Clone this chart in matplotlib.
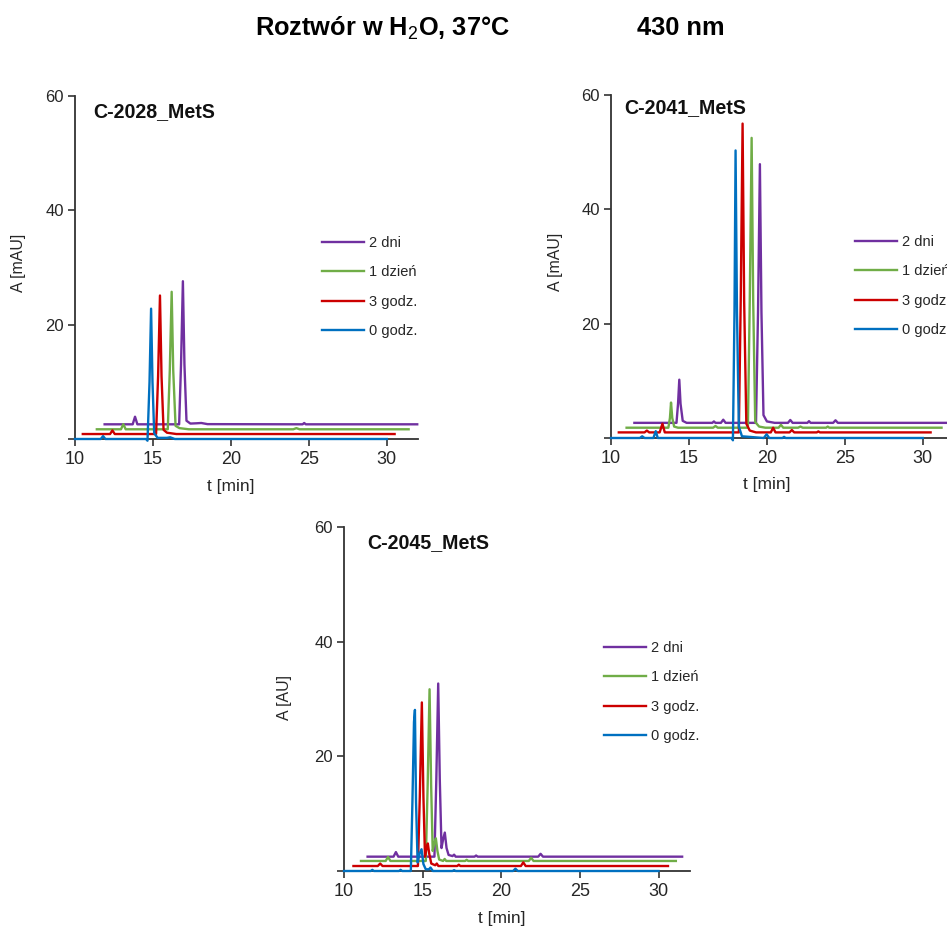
import matplotlib
matplotlib.use("Agg")
import matplotlib.pyplot as plt

plt.rcParams['font.family'] = ['Liberation Sans', 'DejaVu Sans']
plt.rcParams['mathtext.fontset'] = 'custom'
plt.rcParams['mathtext.rm'] = 'Liberation Sans'
plt.rcParams['mathtext.bf'] = 'Liberation Sans:bold'

# ---------------- data ----------------
SERIES_LABELS = ["0 godz.", "3 godz.", "1 dzień", "2 dni"]
SERIES_COLORS = ["#0070C0", "#CC0000", "#70AD47", "#7030A0"]
PANEL_TITLES = ["C-2028_MetS", "C-2041_MetS", "C-2045_MetS"]
PANEL_YLABELS = ["A [mAU]", "A [mAU]", "A [AU]"]
X_TICKS = [10, 15, 20, 25, 30]
Y_TICKS = [0, 20, 40, 60]
Y_TICK_LABELS = ["", "20", "40", "60"]

# Panel 1: C-2028_MetS
P1_0H_T = [10.0, 11.65, 11.8, 11.95, 14.55, 14.65, 14.78, 14.88, 14.97, 15.08, 15.3, 15.9, 16.1, 16.4, 30.0]
P1_0H_A = [0, 0, 0.5, 0, 0, -0.3, 10, 22.8, 10, 1.0, 0.2, 0.2, 0.3, 0, 0]
P1_3H_T = [10.5, 12.25, 12.4, 12.55, 15.2, 15.33, 15.45, 15.55, 15.68, 15.9, 16.5, 30.5]
P1_3H_A = [0.87, 0.87, 1.5, 0.87, 0.87, 11, 25.1, 11, 1.6, 1.1, 0.87, 0.87]
P1_1D_T = [11.4, 12.95, 13.1, 13.25, 15.95, 16.08, 16.2, 16.3, 16.45, 16.7, 17.3, 24.0, 24.2, 24.4, 31.4]
P1_1D_A = [1.7, 1.7, 2.6, 1.7, 1.7, 12, 25.75, 12, 2.3, 1.9, 1.7, 1.7, 1.9, 1.7, 1.7]
P1_2D_T = [11.9, 13.7, 13.85, 14.0, 16.68, 16.8, 16.92, 17.02, 17.15, 17.4, 17.8, 18.1, 18.5, 24.6, 24.7, 24.8, 31.95]
P1_2D_A = [2.57, 2.57, 3.9, 2.57, 2.57, 13, 27.6, 13, 3.2, 2.7, 2.75, 2.8, 2.6, 2.57, 2.8, 2.57, 2.57]

# Panel 2: C-2041_MetS
P2_0H_T = [10.0, 11.85, 12.0, 12.15, 12.72, 12.87, 13.0, 17.75, 17.82, 17.92, 17.99, 18.08, 18.2, 18.4,
           19.8, 19.98, 20.15, 21.0, 21.1, 21.2, 30.0]
P2_0H_A = [0, 0, 0.3, 0, 0, 1.2, 0, 0, -0.4, 22, 50.3, 22, 2, 0.3, 0, 0.65, 0, 0, 0.2, 0, 0]
P2_3H_T = [10.5, 12.15, 12.3, 12.45, 13.12, 13.3, 13.45, 18.2, 18.32, 18.44, 18.54, 18.68, 18.9, 19.3,
           20.25, 20.4, 20.55, 21.45, 21.6, 21.75, 23.2, 23.3, 23.4, 30.5]
P2_3H_A = [0.98, 0.98, 1.3, 0.98, 0.98, 2.5, 0.98, 0.98, 24, 55.0, 24, 2.5, 1.3, 0.98,
           0.98, 1.8, 0.98, 0.98, 1.4, 0.98, 0.98, 1.15, 0.98, 0.98]
P2_1D_T = [11.0, 13.68, 13.78, 13.85, 13.93, 14.05, 14.3, 16.55, 16.7, 16.85, 18.78, 18.9, 19.02, 19.12,
           19.25, 19.5, 19.9, 20.75, 20.9, 21.05, 22.0, 22.15, 22.3, 23.8, 23.9, 24.0, 31.2]
P2_1D_A = [1.8, 1.8, 3.5, 6.2, 3.5, 2.0, 1.8, 1.8, 2.1, 1.8, 1.8, 24, 52.5, 24,
           2.8, 2.0, 1.8, 1.8, 2.3, 1.8, 1.8, 2.0, 1.8, 1.8, 2.0, 1.8, 1.8]
P2_2D_T = [11.5, 14.2, 14.3, 14.38, 14.46, 14.6, 14.85, 16.5, 16.6, 16.7, 17.05, 17.2, 17.35, 19.3,
           19.43, 19.55, 19.65, 19.78, 20.0, 20.5, 21.35, 21.5, 21.65, 22.6, 22.7, 22.8, 24.25, 24.4,
           24.55, 32.0]
P2_2D_A = [2.65, 2.65, 6, 10.2, 6, 3, 2.65, 2.65, 2.9, 2.65, 2.65, 3.2, 2.65, 2.65,
           22, 47.9, 22, 4, 2.9, 2.65, 2.65, 3.15, 2.65, 2.65, 2.95, 2.65, 2.65, 3.1,
           2.65, 2.65]

# Panel 3: C-2045_MetS
P3_0H_T = [10.0, 11.7, 11.8, 11.9, 13.5, 13.6, 13.7, 14.25, 14.35, 14.45, 14.51, 14.58, 14.68, 14.8,
           14.93, 15.05, 15.2, 15.4, 15.5, 15.65, 16.9, 17.0, 17.1, 20.75, 20.9, 21.05, 30.0]
P3_0H_A = [0, 0, 0.2, 0, 0, 0.2, 0, 0, 12, 26, 28.1, 12, 1.5, 3.0,
           3.8, 1.2, 0.3, 0.3, 0.6, 0, 0, 0.15, 0, 0, 0.4, 0, 0]
P3_3H_T = [10.6, 12.15, 12.3, 12.45, 14.7, 14.82, 14.95, 15.05, 15.15, 15.25, 15.33, 15.42, 15.55, 15.8,
           15.9, 16.0, 17.2, 17.3, 17.4, 21.25, 21.4, 21.55, 30.6]
P3_3H_A = [0.87, 0.87, 1.3, 0.87, 0.87, 13, 29.4, 13, 2.5, 4.0, 4.8, 3.0, 1.3, 1.0,
           1.3, 0.87, 0.87, 1.1, 0.87, 0.87, 1.5, 0.87, 0.87]
P3_1D_T = [11.08, 12.65, 12.8, 12.95, 15.2, 15.32, 15.44, 15.54, 15.64, 15.74, 15.84, 15.94, 16.05, 16.3,
           16.4, 16.5, 17.7, 17.8, 17.9, 21.75, 21.9, 22.05, 31.1]
P3_1D_A = [1.75, 1.75, 2.45, 1.75, 1.75, 15, 31.7, 15, 3.5, 4.8, 5.7, 3.5, 2.0, 1.75,
           2.1, 1.75, 1.75, 1.95, 1.75, 1.75, 2.3, 1.75, 1.75]
P3_2D_T = [11.5, 13.15, 13.3, 13.45, 15.75, 15.87, 15.99, 16.09, 16.2, 16.3, 16.41, 16.52, 16.65, 16.9,
           17.0, 17.1, 18.3, 18.4, 18.5, 22.35, 22.5, 22.65, 31.5]
P3_2D_A = [2.5, 2.5, 3.3, 2.5, 2.5, 16, 32.7, 16, 4.0, 5.5, 6.7, 4.0, 2.8, 2.6,
           2.85, 2.5, 2.5, 2.7, 2.5, 2.5, 3.0, 2.5, 2.5]

PANELS = [
    [(P1_0H_T, P1_0H_A), (P1_3H_T, P1_3H_A), (P1_1D_T, P1_1D_A), (P1_2D_T, P1_2D_A)],
    [(P2_0H_T, P2_0H_A), (P2_3H_T, P2_3H_A), (P2_1D_T, P2_1D_A), (P2_2D_T, P2_2D_A)],
    [(P3_0H_T, P3_0H_A), (P3_3H_T, P3_3H_A), (P3_1D_T, P3_1D_A), (P3_2D_T, P3_2D_A)],
]

# ---------------- layout ----------------
W, H = 947, 927
fig = plt.figure(figsize=(W / 100, H / 100), dpi=100)

def px_rect(x0, y_top, x1, y_bot):
    return [x0 / W, 1 - y_bot / H, (x1 - x0) / W, (y_bot - y_top) / H]

AX_RECTS = [px_rect(75, 96, 418, 439), px_rect(611, 95, 954, 438), px_rect(344, 527, 690, 871)]
TITLE_POS = [(93, 112), (624, 108), (367, 543)]
YLABEL_POS = [(18, 263), (555, 262), (285, 698)]
XLABEL_Y = [486, 485, 918]
LEGEND_ANCHOR = [(322, 236), (855, 235), (604, 641)]

TEXT_C = "#262626"
AXIS_C = "#333333"

for i, rect in enumerate(AX_RECTS):
    ax = fig.add_axes(rect)
    for j in range(3, -1, -1):
        t, a = PANELS[i][j]
        ax.plot(t, a, color=SERIES_COLORS[j], lw=1.7, label=SERIES_LABELS[j],
                solid_joinstyle='round', clip_on=False, zorder=3 + (3 - j))
    ax.set_xlim(10, 32)
    ax.set_ylim(0, 60)
    for s in ["top", "right"]:
        ax.spines[s].set_visible(False)
    for s in ["left", "bottom"]:
        ax.spines[s].set_color(AXIS_C)
        ax.spines[s].set_linewidth(1.3)
    ax.set_xticks(X_TICKS)
    ax.set_yticks(Y_TICKS)
    ax.set_yticklabels(Y_TICK_LABELS)
    ax.tick_params(axis='x', direction='out', length=5, width=1.2, color=AXIS_C,
                   labelsize=13, labelcolor=TEXT_C, pad=4)
    ax.tick_params(axis='y', direction='out', length=5, width=1.2, color=AXIS_C,
                   labelsize=12, labelcolor=TEXT_C, pad=3)
    ax.patch.set_alpha(0)
    # axis labels placed in figure pixel coords (x label centred under t = 20 min)
    fig.text((rect[0] * W + (20.0 - 10) / 22 * rect[2] * W) / W, 1 - XLABEL_Y[i] / H, "t [min]",
             fontsize=12.5, color=TEXT_C, ha='center', va='center')
    yx, yy = YLABEL_POS[i]
    fig.text(yx / W, 1 - yy / H, PANEL_YLABELS[i], rotation=90, fontsize=11.4,
             color=TEXT_C, ha='center', va='center')
    tx, ty = TITLE_POS[i]
    fig.text(tx / W, 1 - ty / H, PANEL_TITLES[i], fontsize=14.1, fontweight='bold',
             color="#111111", ha='left', va='center')
    handles, labels = ax.get_legend_handles_labels()
    lx, ly = LEGEND_ANCHOR[i]
    ax.legend(handles, labels, loc='upper left', bbox_to_anchor=(lx / W, 1 - ly / H),
              bbox_transform=fig.transFigure, frameon=False, fontsize=10.5,
              handlelength=2.85, handletextpad=0.4, labelspacing=1.05,
              borderpad=0, borderaxespad=0, labelcolor=TEXT_C)

fig.text(382 / W, 1 - 28 / H, r"Roztwór w H$_\mathrm{2}$O, 37°C", fontsize=18.3,
         fontweight='bold', ha='center', va='center', color='black')
fig.text(681 / W, 1 - 28 / H, "430 nm", fontsize=18.3, fontweight='bold',
         ha='center', va='center', color='black')

fig.savefig("out.png", dpi=100)
